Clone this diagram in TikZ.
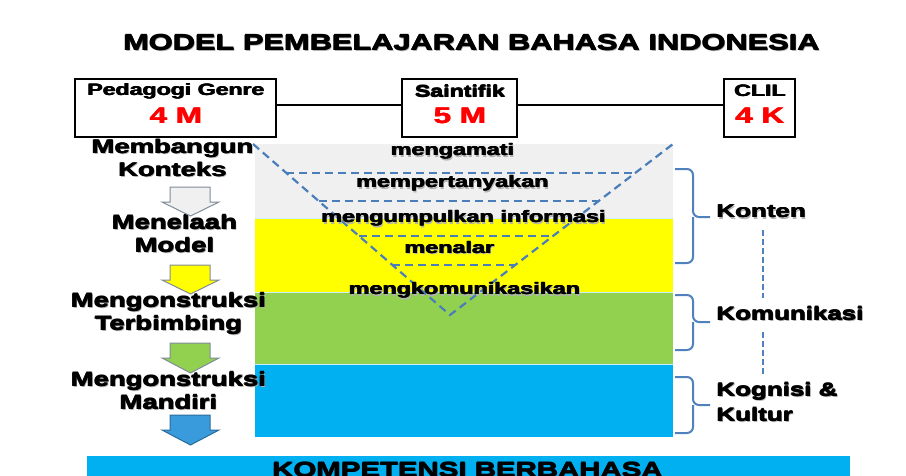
\documentclass[tikz,border=0pt]{standalone}
\usepackage{fontspec}
\setmainfont{Liberation Sans Bold}[FakeStretch=1.4]
\usetikzlibrary{calc}
\definecolor{bandgray}{HTML}{F0F0F0}
\definecolor{bandyellow}{HTML}{FFFF00}
\definecolor{bandgreen}{HTML}{92D050}
\definecolor{bandblue}{HTML}{00B0F0}
\definecolor{dashblue}{HTML}{4A7EBB}
\definecolor{bracecol}{HTML}{4F81BD}
\definecolor{arrowedge}{HTML}{7F8C9A}
\definecolor{arrowblue}{HTML}{3A9BDC}
\definecolor{redtxt}{HTML}{FF0000}
\newcommand\fs[1]{\fontsize{#1}{#1}\selectfont}
% heavy text: overprinted with a small offset, optional soft shadow
\newcommand\hv[1]{\leavevmode\rlap{\kern0.5pt\raisebox{0.3pt}{#1}}\rlap{\kern1pt#1}#1}
\newcommand\hvs[1]{\leavevmode\rlap{\kern1.5pt\raisebox{-1.3pt}{\textcolor{black!30}{#1}}}\hv{#1}}
\begin{document}
\begin{tikzpicture}[x=1pt,y=-1pt,
  every node/.style={inner sep=2pt},
  topbox/.style={draw=black, line width=1.5pt, fill=white, inner sep=0pt},
  boxname/.style={font=\fs{16.5}},
  boxcode/.style={font=\fs{22.5}, text=redtxt},
  steplbl/.style={font=\fontsize{19.6}{23}\selectfont, align=center},
  tritxt/.style={font=\fs{16.7}},
  sidelbl/.style={font=\fontsize{18.5}{25}\selectfont, align=left, anchor=west},
  dashline/.style={draw=dashblue, line width=2.2pt, dash pattern=on 8pt off 5pt},
  bracepath/.style={draw=bracecol, line width=2pt, rounded corners=6pt},
  blockarr/.style={line width=1pt}
]
\useasboundingbox (0,0) rectangle (906,475);
\clip (0,0) rectangle (906,475);

% title
\node[font=\fs{22}] (title) at (471,43) {\hvs{MODEL PEMBELAJARAN BAHASA INDONESIA}};

% top boxes
\node[topbox, minimum width=201pt, minimum height=58pt] (pg) at (175.5,108) {};
\node[topbox, minimum width=115pt, minimum height=58pt] (sa) at (459.5,108) {};
\node[topbox, minimum width=71pt, minimum height=58pt] (cl) at (759.5,108) {};
\node[boxname] (pgT) at (175.5,91) {\hv{Pedagogi Genre}};
\node[boxcode] (pgN) at (175.5,116) {\hv{4 M}};
\node[boxname] (saT) at (459.5,91) {\hv{Saintifik}};
\node[boxcode] (saN) at (459.5,116) {\hv{5 M}};
\node[boxname] (clT) at (759.5,91) {\hv{CLIL}};
\node[boxcode] (clN) at (759.5,116) {\hv{4 K}};
\coordinate (ly) at (0,105);
\draw[line width=2.5pt] (pg.east |- ly) -- (sa.west |- ly);
\draw[line width=2.5pt] (sa.east |- ly) -- (cl.west |- ly);

% bands
\fill[bandgray] (255,144) rectangle (673,218);
\fill[bandyellow] (255,218) rectangle (673,292);
\fill[bandgreen] (255,292) rectangle (673,364);
\fill[bandblue] (255,364) rectangle (673,437);
\draw[white!80!cyan, line width=0.8pt] (255,218) -- (673,218) (255,292) -- (673,292) (255,364) -- (673,364);

% inverted triangle
\coordinate (tl) at (253,144);
\coordinate (tr) at (673,144);
\coordinate (ap) at (450,315);
\draw[dashline] (tl) -- (ap) -- (tr);
\draw[dashline] ($(tl)!0.17!(ap)$) -- ($(tr)!0.17!(ap)$);
\draw[dashline] ($(tl)!0.333!(ap)$) -- ($(tr)!0.333!(ap)$);
\draw[dashline] ($(tl)!0.538!(ap)$) -- ($(tr)!0.538!(ap)$);
\draw[dashline] ($(tl)!0.708!(ap)$) -- ($(tr)!0.708!(ap)$);

\node[tritxt] (t1) at (452,152) {\hvs{mengamati}};
\node[tritxt] (t2) at (452,184) {\hvs{mempertanyakan}};
\node[tritxt] (t3) at (463,219) {\hvs{mengumpulkan informasi}};
\node[tritxt] (t4) at (449,248) {\hvs{menalar}};
\node[tritxt] (t5) at (464,291) {\hvs{mengkomunikasikan}};

% left steps
\node[steplbl] (s1) at (172,158.5) {\hvs{Membangun}\\\hvs{Konteks}};
\node[steplbl] (s2) at (174,234) {\hvs{Menelaah}\\\hvs{Model}};
\node[steplbl] (s3) at (168,314) {\hvs{Mengonstruksi}\\\hvs{Terbimbing}};
\node[steplbl] (s4) at (168,391) {\hvs{Mengonstruksi}\\\hvs{Mandiri}};

% block arrows
\filldraw[blockarr, fill=bandgray, draw=arrowedge]
  (170,187) -- (210,187) -- (210,202) -- (219,202) -- (190.5,216) -- (162,202) -- (170,202) -- cycle;
\filldraw[blockarr, fill=bandyellow, draw=arrowedge]
  (170,265) -- (210,265) -- (210,280) -- (219,280) -- (190.5,294) -- (162,280) -- (170,280) -- cycle;
\filldraw[blockarr, fill=bandgreen, draw=arrowedge]
  (170,343) -- (210,343) -- (210,358) -- (219,358) -- (190.5,373) -- (162,358) -- (170,358) -- cycle;
\filldraw[blockarr, fill=arrowblue, draw=arrowblue!70!black]
  (170,415) -- (210,415) -- (210,430) -- (219,430) -- (190.5,445) -- (162,430) -- (170,430) -- cycle;

% right labels
\node[sidelbl] (kon) at (714,212) {\hvs{Konten}};
\node[sidelbl] (kom) at (714,314) {\hvs{Komunikasi}};
\node[sidelbl] (kog) at (714,402.5) {\hvs{Kognisi \&}\\\hvs{Kultur}};

% braces
\draw[bracepath] (675,169) -- (693,169) -- (693,217) -- (710,217);
\draw[bracepath] (675,263) -- (693,263) -- (693,217);
\draw[bracepath] (675,295) -- (693,295) -- (693,322) -- (710,322);
\draw[bracepath] (675,350) -- (693,350) -- (693,322);
\draw[bracepath] (675,377) -- (693,377) -- (693,405) -- (710,405);
\draw[bracepath] (675,433) -- (693,433) -- (693,405);

% dashed vertical links
\coordinate (vx) at (763,0);
\draw[draw=bracecol, line width=2pt, dash pattern=on 6pt off 3pt] (vx |- 0,230) -- (vx |- 0,298);
\draw[draw=bracecol, line width=2pt, dash pattern=on 6pt off 3pt] (vx |- 0,332) -- (vx |- 0,377);

% bottom bar
\fill[bandblue] (87,456) rectangle (850,495);
\node[font=\fs{21}, anchor=base] (komp) at (467,477) {\hv{KOMPETENSI BERBAHASA}};
\end{tikzpicture}
\end{document}
